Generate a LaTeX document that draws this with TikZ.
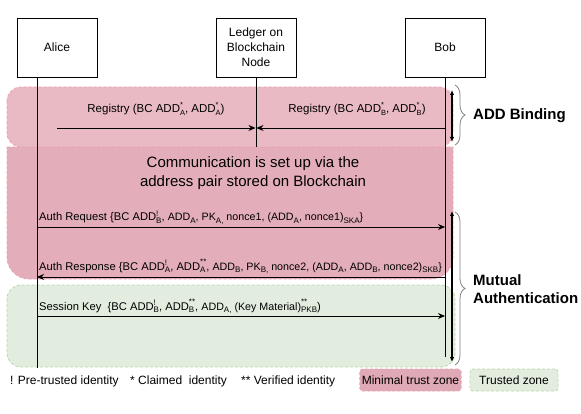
\documentclass[tikz,border=0pt]{standalone}
\usepackage{fontspec}
\setmainfont{Liberation Sans}
\usetikzlibrary{arrows.meta,decorations.pathreplacing}
\definecolor{pinkA}{HTML}{E9BAC4}
\definecolor{pinkB}{HTML}{E3AEBA}
\definecolor{pinkLine}{HTML}{E8A3B3}
\definecolor{pinkLeg}{HTML}{E0A9B6}
\definecolor{greenA}{HTML}{E3EDDF}
\definecolor{greenLine}{HTML}{B9D8AB}
% stacked subscript / superscript
\newcommand\sbp[4][8]{{\fontsize{#1}{#1}\selectfont\setbox0\hbox{#3}\setbox2\hbox{#4}%
  \raisebox{-2.8pt}{\copy0}\kern-\wd0\raisebox{#2}{\copy2}%
  \ifdim\wd0>\wd2 \kern\dimexpr\wd0-\wd2\relax\fi}}
\newcommand\sbb[2][8]{\raisebox{-2.8pt}{\fontsize{#1}{#1}\selectfont #2}}
\newcommand\msgbig{\fontsize{11.2}{13}\selectfont}
\newcommand\msgsmall{\fontsize{10.7}{12}\selectfont}
\begin{document}
\begin{tikzpicture}[x=1pt,y=-1pt,
  actor/.style={draw, line width=0.8pt, minimum width=80pt, minimum height=59pt, align=center, inner sep=0pt, font=\fontsize{12}{15}\selectfont},
  life/.style={line width=0.9pt},
  msg/.style={line width=0.9pt, -{Stealth[length=7pt,width=6pt]}},
  lbl/.style={inner sep=0pt, anchor=base west, font=\msgbig},
  rlbl/.style={inner sep=0pt, anchor=base, font=\fontsize{11.5}{13}\selectfont},
  brc/.style={decorate, decoration={brace, amplitude=10pt}, draw=gray, line width=0.8pt},
  spanarrow/.style={line width=1.4pt, {Latex[length=5pt,width=4.5pt]}-{Latex[length=5pt,width=4.5pt]}},
  zone/.style={dashed, dash pattern=on 3pt off 2pt, line width=0.8pt},
  head/.style={inner sep=0pt, anchor=west, align=left, font=\fontsize{15}{18}\selectfont\bfseries},
  legtext/.style={inner sep=0pt, anchor=base west, font=\fontsize{12}{14}\selectfont},
  legbox/.style={zone, rounded corners=3pt, minimum height=22pt, inner xsep=2pt, font=\fontsize{12}{14}\selectfont}
]
\useasboundingbox (0,0) rectangle (581,414);
% zones
\path[fill=pinkB, draw=pinkLine, zone] (7,147) -- (453,147) -- (453,257) arc[start angle=0, end angle=90, radius=22] -- (29,279) arc[start angle=90, end angle=180, radius=22] -- cycle;
\path[fill=pinkA, draw=pinkLine, zone, rounded corners=14pt] (7,87) rectangle (453,147);
\path[fill=greenA, draw=greenLine, zone, rounded corners=14pt] (7,285) rectangle (455,367);
% actors
\node[actor] (alice) at (57,47.5) {Alice};
\node[actor] (ledger) at (256,47.5) {Ledger on\\Blockchain\\Node};
\node[actor] (bob) at (445,47.5) {Bob};
% lifelines
\coordinate (aT) at (37,77.5);  \coordinate (aB) at (37,368);
\coordinate (lT) at (256,77.5); \coordinate (lB) at (256,147);
\coordinate (bT) at (445,77.5); \coordinate (bB) at (445,357);
\draw[life] (aT) -- (aB);
\draw[life] (lT) -- (lB);
\draw[life] (bT) -- (bB);
% registry
\coordinate (r1s) at (57,128); \coordinate (r1e) at (255.5,128);
\coordinate (r2s) at (445,128); \coordinate (r2e) at (256.5,128);
\draw[msg] (r1s) -- (r1e);
\draw[msg] (r2s) -- (r2e);
\node[rlbl] (reg1) at (156,113) {Registry (BC ADD\sbp[7.5]{5.6pt}{A}{*}, ADD\sbp[7.5]{5.6pt}{A}{*})};
\node[rlbl] (reg2) at (357,113) {Registry (BC ADD\sbp[7.5]{5.6pt}{B}{*}, ADD\sbp[7.5]{5.6pt}{B}{*})};
% communication
\node[inner sep=0pt, align=center, font=\fontsize{15}{18.5}\selectfont] (comm) at (253,173) {Communication is set up via the\\address pair stored on Blockchain};
% auth request
\coordinate (q1) at (37,227); \coordinate (q2) at (445,227);
\draw[msg] (q1) -- (q2);
\node[lbl] (areq) at (39,221) {Auth Request \{BC ADD\sbp{4.8pt}{B}{!}, {\msgsmall ADD\sbb{A}, PK\sbb{A,} nonce1, (ADD\sbb{A}, nonce1)\sbb{SKA}\}}};
% auth response
\coordinate (p1) at (445,277); \coordinate (p2) at (37,277);
\draw[msg] (p1) -- (p2);
\node[lbl] (aresp) at (39,270) {Auth Response \{BC ADD\sbp{4.8pt}{A}{!}, ADD\sbp{5.2pt}{A}{**}, {\msgsmall ADD\sbb{B}, PK\sbb{B,} nonce2, (ADD\sbb{A}, ADD\sbb{B}, nonce2)\sbb{SKB}\}}};
% session key
\coordinate (s1) at (37,316); \coordinate (s2) at (445,316);
\draw[msg] (s1) -- (s2);
\node[lbl] (skey) at (39,310) {Session Key\ \ \{BC ADD\sbp{4.8pt}{B}{!}, ADD\sbp{5.2pt}{B}{**}, {\msgsmall ADD\sbb{A,} (Key Material)\sbp{5.2pt}{PKB}{**}})};
% spans and braces
\coordinate (b1t) at (452,90);  \coordinate (b1b) at (452,142);
\coordinate (b2t) at (452,211); \coordinate (b2b) at (452,362);
\draw[spanarrow] (b1t) -- (b1b);
\draw[spanarrow] (b2t) -- (b2b);
\coordinate (c1t) at (455,85);  \coordinate (c1b) at (455,145);
\coordinate (c2t) at (455,212); \coordinate (c2b) at (455,365);
\draw[brc] (c1t) -- (c1b);
\draw[brc] (c2t) -- (c2b);
\node[head] (addb) at (473,116) {ADD Binding};
\node[head] (mauth) at (473,289) {Mutual\\Authentication};
% legend
\node[legtext] (l1) at (10,384) {! Pre-trusted identity};
\node[legtext] (l2) at (130,384) {* Claimed\ \ identity};
\node[legtext] (l3) at (241,384) {** Verified identity};
\node[legbox, fill=pinkLeg, draw=pinkLine, minimum width=101pt] (l4) at (410.5,380) {Minimal trust zone};
\node[legbox, fill=greenA, draw=greenLine, minimum width=88pt] (l5) at (514,380) {Trusted zone};
\end{tikzpicture}
\end{document}
